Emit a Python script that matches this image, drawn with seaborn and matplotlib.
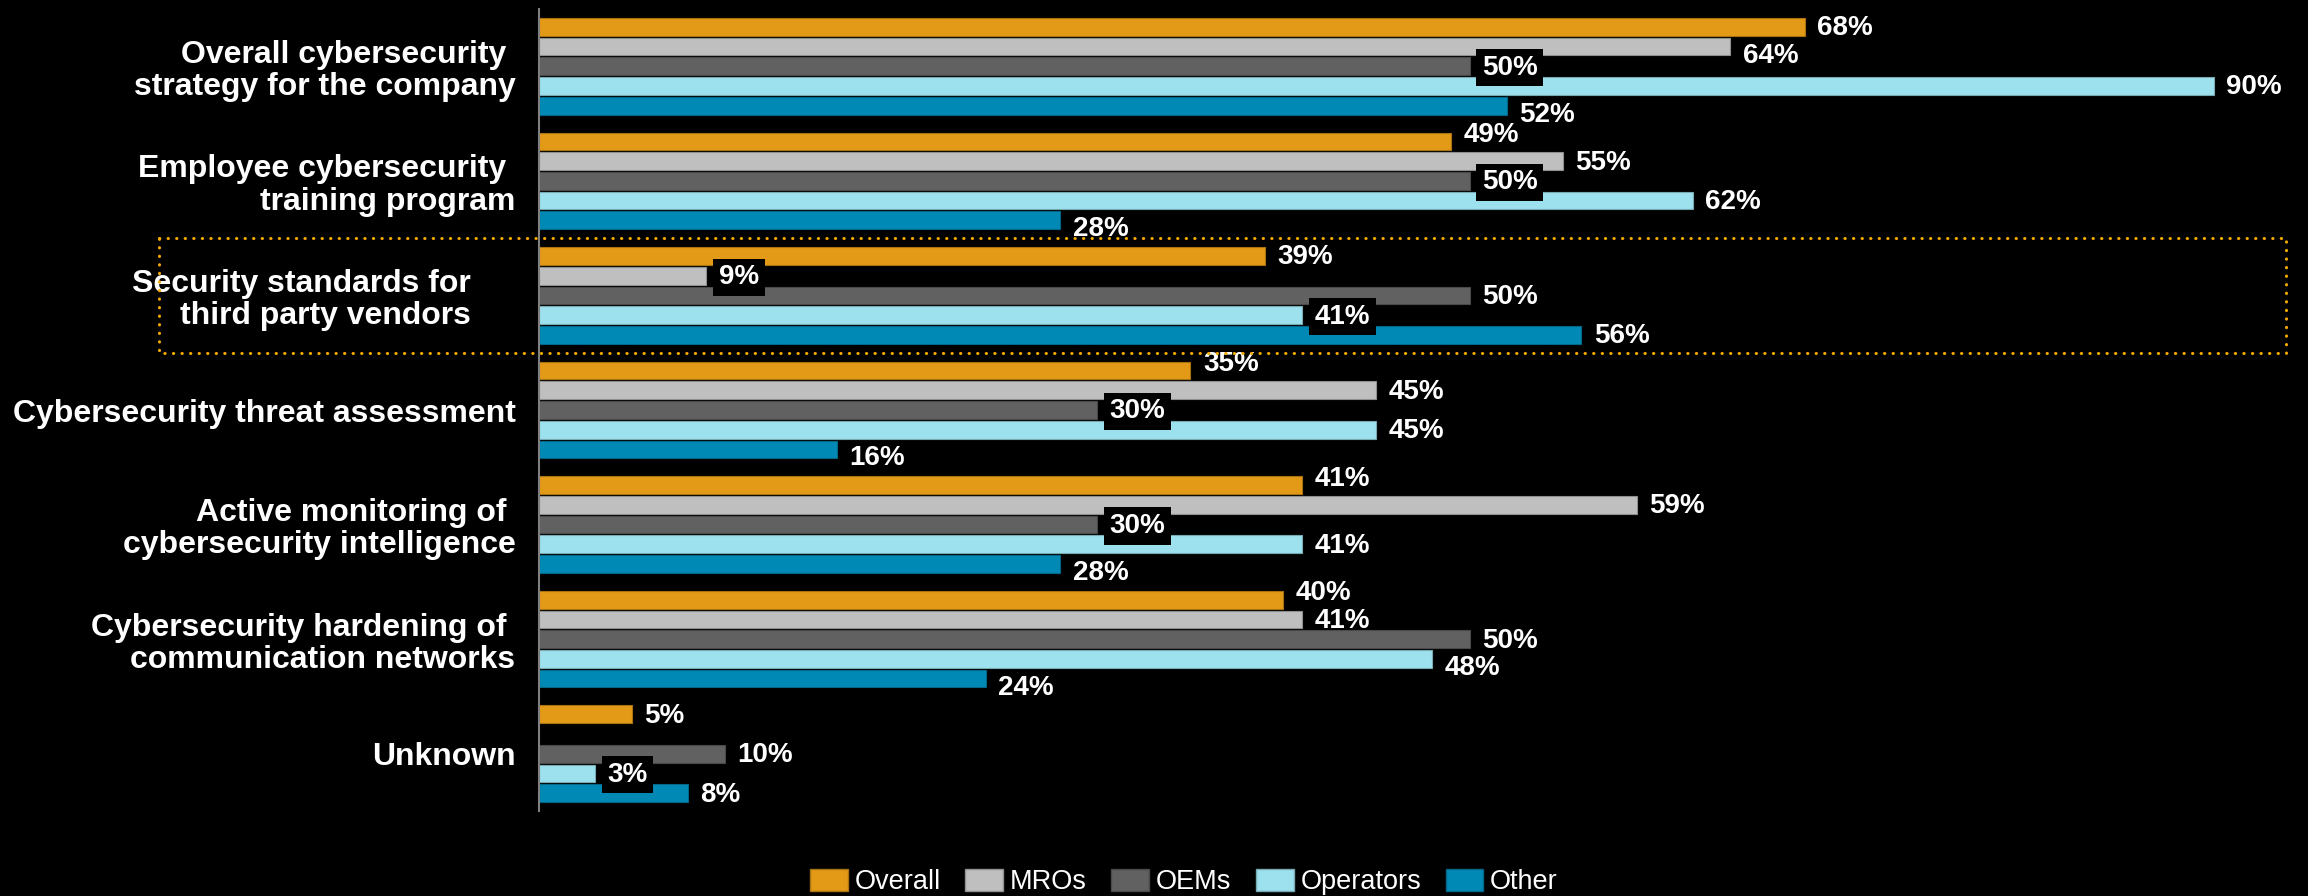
import numpy as np
import pandas as pd
import matplotlib
matplotlib.use("Agg")
import matplotlib.pyplot as plt
import matplotlib.colors as mcolors
import seaborn as sns
from matplotlib.patches import Patch, Rectangle
from matplotlib.transforms import blended_transform_factory

# ---- data -------------------------------------------------------------
categories = [
    "Overall cybersecurity \nstrategy for the company",
    "Employee cybersecurity \ntraining program",
    "Security standards for     \nthird party vendors     ",
    "Cybersecurity threat assessment",
    "Active monitoring of \ncybersecurity intelligence",
    "Cybersecurity hardening of \ncommunication networks",
    "Unknown",
]
series = ["Overall", "MROs", "OEMs", "Operators", "Other"]

overall = [68, 49, 39, 35, 41, 40, 5]
mros = [64, 55, 9, 45, 59, 41, np.nan]
oems = [50, 50, 50, 30, 30, 50, 10]
operators = [90, 62, 41, 45, 41, 48, 3]
other = [52, 28, 56, 16, 28, 24, 8]

colors = ["#E39A17", "#BFBFBF", "#616161", "#9EE1EE", "#0089B5"]

# value labels that sit on a black patch so they stay readable over the next bar
boxed_labels = {(0, "OEMs"), (1, "OEMs"), (2, "MROs"), (2, "Operators"),
                (3, "OEMs"), (4, "OEMs"), (6, "Operators")}
highlight_category = 2

values = [overall, mros, oems, operators, other]
df = pd.DataFrame(
    [(c, s, v[i]) for s, v in zip(series, values) for i, c in enumerate(categories)],
    columns=["category", "series", "value"],
).dropna()

# ---- style ------------------------------------------------------------
sns.set_theme(style="white")
plt.rcParams["font.family"] = ["Liberation Sans", "DejaVu Sans"]

W, H = 2308, 896
fig = plt.figure(figsize=(W / 100, H / 100), dpi=100, facecolor="black")
ax = fig.add_axes([539 / W, (H - 811) / H, 1768 / W, 802 / H])
ax.set_facecolor("black")

sns.barplot(
    data=df, y="category", x="value", hue="series",
    order=categories, hue_order=series, palette=colors, saturation=1,
    orient="h", width=0.86, gap=0.1, errorbar=None,
    linewidth=0.8, legend=False, ax=ax,
)

def darker(c, f=0.75):
    r, g, b = mcolors.to_rgb(c)
    return (r * f, g * f, b * f)

for cont, col in zip(ax.containers, colors):
    for bar in cont:
        bar.set_edgecolor(darker(col))

ax.set_xlim(0, 95)
ax.set_ylim(6.5, -0.5)
ax.set_xlabel("")
ax.set_ylabel("")
ax.set_xticks([])
for side in ["top", "right", "bottom"]:
    ax.spines[side].set_visible(False)
ax.spines["left"].set_color("#7F7F7F")
ax.spines["left"].set_linewidth(1.5)
ax.tick_params(axis="y", length=0, pad=17, labelsize=23, labelcolor="white")
for t in ax.get_yticklabels():
    t.set_fontweight("bold")
    t.set_linespacing(1.1)

# ---- value labels -----------------------------------------------------
def value_at(si, ci):
    if 0 <= si < len(series):
        return values[si][ci]
    return np.nan

shift = 5.5
base = -1.0
for si, (name, cont) in enumerate(zip(series, ax.containers)):
    for bar in cont:
        w = bar.get_width()
        if not np.isfinite(w):
            continue
        yc = bar.get_y() + bar.get_height() / 2
        ci = int(round(yc))
        kw = {}
        dy = base
        if (ci, name) in boxed_labels:
            kw["bbox"] = dict(boxstyle="square,pad=0.2", fc="black", ec="none")
        else:
            above, below = value_at(si - 1, ci), value_at(si + 1, ci)
            if np.isfinite(above) and above > w:
                dy = base - shift
            elif not np.isfinite(above) and np.isfinite(below) and below > w:
                dy = base + shift
        ax.annotate(
            f"{w:.0f}%", xy=(w, yc), xytext=(9, dy), textcoords="offset points",
            ha="left", va="center", color="white", fontsize=20,
            fontweight="bold", zorder=5, annotation_clip=False, **kw,
        )

# ---- highlight frame around one category ------------------------------
trans = blended_transform_factory(fig.transFigure, ax.transData)
frame = Rectangle(
    (159 / W, highlight_category - 0.5), (2286 - 159) / W, 1.0,
    transform=trans, fill=False, edgecolor="#F5A800", linewidth=2.2,
    linestyle=(0, (0.1, 2.7)), capstyle="round", clip_on=False, zorder=6,
)
ax.add_patch(frame)

# ---- legend ------------------------------------------------------------
handles = [Patch(facecolor=c, edgecolor=darker(c), linewidth=1) for c in colors]
fig.legend(
    handles, series, loc="center", bbox_to_anchor=(1184 / W, 14 / H),
    ncol=5, frameon=False, fontsize=19.5, labelcolor="white",
    handlelength=1.4, handleheight=0.9, handletextpad=0.25, columnspacing=0.9,
)

fig.savefig("out.png", dpi=100, facecolor="black")
